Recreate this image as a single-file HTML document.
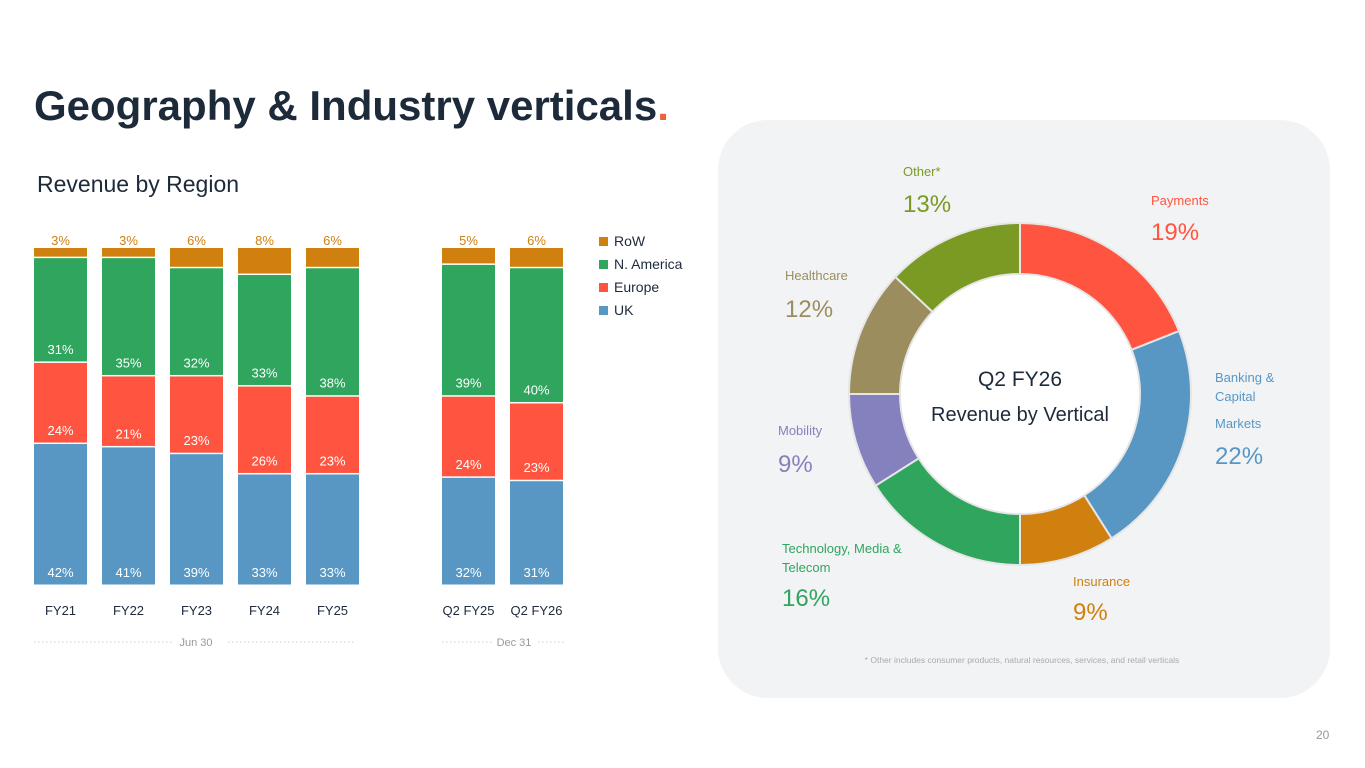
<!DOCTYPE html>
<html><head><meta charset="utf-8"><style>
body{margin:0;width:1365px;height:768px;background:#fff;overflow:hidden;font-family:"Liberation Sans",sans-serif;position:relative}
.t{position:absolute;white-space:nowrap}
</style></head><body>
<div class="t" style="left:34px;top:82px;font-size:42px;font-weight:bold;color:#1d2a3a">Geography &amp; Industry verticals<span style="color:#f0603c">.</span></div>
<div class="t" style="left:37px;top:171px;font-size:23px;color:#1d2a3a">Revenue by Region</div>
<div style="position:absolute;left:718px;top:120px;width:612px;height:578px;background:#f2f3f5;border-radius:50px"></div>
<div class="t" style="left:1316px;top:728px;font-size:12px;color:#999">20</div>
<svg id="bars" width="1365" height="768" style="position:absolute;left:0;top:0"></svg>
<script>
const cats=["FY21","FY22","FY23","FY24","FY25","Q2 FY25","Q2 FY26"];
const uk=[42,41,39,33,33,32,31];
const europe=[24,21,23,26,23,24,23];
const namerica=[31,35,32,33,38,39,40];
const row=[3,3,6,8,6,5,6];
const seriesNames=["UK","Europe","N. America","RoW"];
const seriesColors=["#5897c4","#ff5540","#2fa55e","#d0800f"];
const vertNames=["Payments","Banking & Capital Markets","Insurance","Technology, Media & Telecom","Mobility","Healthcare","Other*"];
const vertValues=[19,22,9,16,9,12,13];
const vertColors=["#ff5540","#5897c4","#d0800f","#2fa55e","#8581bf","#9c8d5f","#7a9a24"];
const NS="http://www.w3.org/2000/svg";
const svg=document.getElementById('bars');
function mk(tag,attrs,parent){const e=document.createElementNS(NS,tag);for(const k in attrs)e.setAttribute(k,attrs[k]);(parent||svg).appendChild(e);return e;}
const base=586,top0=248,H=base-top0;
function y(v){return base-v/100*H;}
function xPos(i){return i<5?34+i*68:442+(i-5)*68;}
const bw=53;
const series=[uk,europe,namerica,row];
cats.forEach((c,i)=>{
  let cum=0;
  const tot=uk[i]+europe[i]+namerica[i]+row[i];
  series.forEach((s,k)=>{
    const v=s[i]/tot*100;
    const y1=y(cum+v),y0=y(cum);
    const r=mk('rect',{x:xPos(i),y:y1,width:bw,height:y0-y1-1.5,fill:seriesColors[k]});
    
    
    let ty,fill='#fff';
    if(k==3){ty=y1-3;fill='#d0800f';} else ty=y0-9;
    const t=mk('text',{x:xPos(i)+bw/2,y:ty,'text-anchor':'middle','font-size':13,fill:fill});
    t.textContent=s[i]+'%';
    
    
    cum+=v;
  });
  const l=mk('text',{x:xPos(i)+bw/2,y:615,'text-anchor':'middle','font-size':13,fill:'#1d2a3a'});
  l.textContent=c;
  
  
});
[[34,172,'Jun 30',196,228,354],[442,493,'Dec 31',514,538,564]].forEach(p=>{
  mk('line',{x1:p[0],y1:642,x2:p[1],y2:642,stroke:'#ccc','stroke-dasharray':'1.5 2.5'});
  mk('line',{x1:p[4],y1:642,x2:p[5],y2:642,stroke:'#ccc','stroke-dasharray':'1.5 2.5'});
  const t=mk('text',{x:p[3],y:646,'text-anchor':'middle','font-size':11,fill:'#999'});
  t.textContent=p[2];
  
  
});
[3,2,1,0].forEach((k,j)=>{
  const g=mk('g',{});
  
  
  mk('rect',{x:599,y:237+j*23,width:9,height:9,fill:seriesColors[k]},g);
  const t=mk('text',{x:614,y:246+j*23,'font-size':14,fill:'#1d2a3a'},g);
  t.textContent=seriesNames[k];
});
const cx=1020,cy=394,R=171,r=120;
let a=0;
const tot=vertValues.reduce((s,v)=>s+v,0);
vertValues.forEach((v,i)=>{
  const a0=a/tot*2*Math.PI,a1=(a+v)/tot*2*Math.PI;a+=v;
  const p=(ang,rad)=>[cx+rad*Math.sin(ang),cy-rad*Math.cos(ang)];
  const [x0,y0]=p(a0,R),[x1,y1]=p(a1,R),[x2,y2]=p(a1,r),[x3,y3]=p(a0,r);
  const lg=(a1-a0)>Math.PI?1:0;
  const path=mk('path',{d:`M${x0},${y0}A${R},${R} 0 ${lg} 1 ${x1},${y1}L${x2},${y2}A${r},${r} 0 ${lg} 0 ${x3},${y3}Z`,fill:vertColors[i],stroke:'#e6e6e6','stroke-width':2});
  
  
});
mk('circle',{cx:cx,cy:cy,r:r-1,fill:'#fff'});
const c1=mk('text',{x:cx,y:386,'text-anchor':'middle','font-size':21,fill:'#1d2a3a'});c1.textContent='Q2 FY26';

const c2=mk('text',{x:cx,y:421,'text-anchor':'middle','font-size':20,fill:'#1d2a3a'});c2.textContent='Revenue by Vertical';

const lab=[[0,1151,[205],240],[1,1215,[382,401,428],464],[2,1073,[586],620],[3,782,[553,572],606],[4,778,[435],472],[5,785,[280],317],[6,903,[176],212]];
const linesTxt=[["Payments"],["Banking &","Capital","Markets"],["Insurance"],["Technology, Media &","Telecom"],["Mobility"],["Healthcare"],["Other*"]];
lab.forEach(L=>{
  const i=L[0];
  const g=mk('g',{});
  
  
  linesTxt[i].forEach((s,j)=>{const t=mk('text',{x:L[1],y:L[2][j],'font-size':13,fill:vertColors[i]},g);t.textContent=s;});
  const t=mk('text',{x:L[1],y:L[3],'font-size':24,fill:vertColors[i]},g);t.textContent=vertValues[i]+'%';
});
const fn=mk('text',{x:1022,y:663,'text-anchor':'middle','font-size':8.5,fill:'#aaa'});
fn.textContent='* Other includes consumer products, natural resources, services, and retail verticals';

</script>
</body></html>
